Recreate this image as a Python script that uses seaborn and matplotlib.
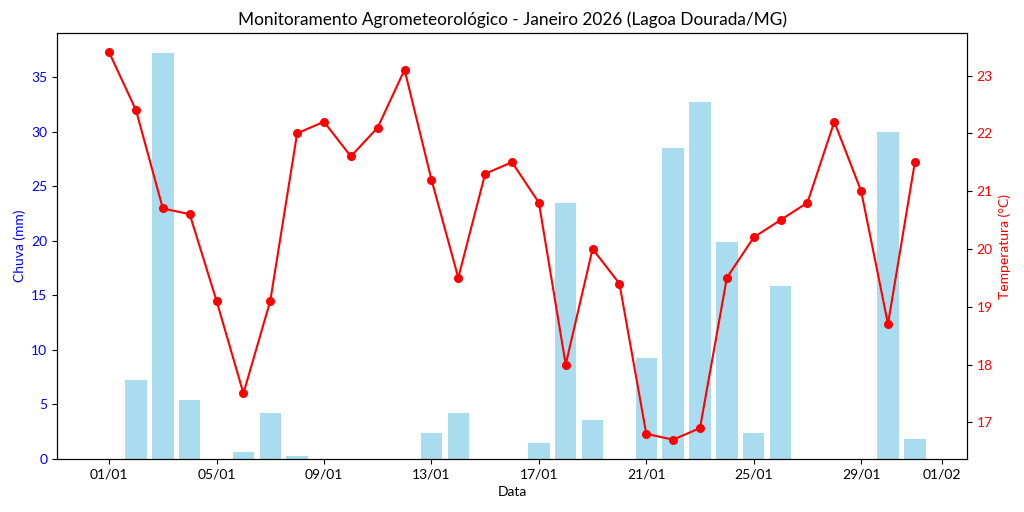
import matplotlib
matplotlib.use("Agg")
import matplotlib.pyplot as plt
import matplotlib.dates as mdates
import seaborn as sns
import pandas as pd
import numpy as np

dates = pd.date_range("2026-01-01", "2026-01-31", freq="D")
chuva = [0.0, 7.2, 37.2, 5.4, 0.0, 0.6, 4.2, 0.3, 0.0, 0.0, 0.0, 0.0, 2.4, 4.2, 0.0, 0.0,
         1.5, 23.5, 3.6, 0.0, 9.3, 28.5, 32.7, 19.9, 2.4, 15.9, 0.0, 0.0, 0.0, 30.0, 1.8]
temperatura = [23.4, 22.4, 20.7, 20.6, 19.1, 17.5, 19.1, 22.0, 22.2, 21.6, 22.1, 23.1, 21.2, 19.5,
               21.3, 21.5, 20.8, 18.0, 20.0, 19.4, 16.8, 16.7, 16.9, 19.5, 20.2, 20.5, 20.8, 22.2,
               21.0, 18.7, 21.5]

plt.rcParams['font.family'] = ['Lato', 'DejaVu Sans']
plt.rcParams['font.size'] = 10

df = pd.DataFrame({"Data": dates, "Chuva": chuva, "Temp": temperatura})

fig, ax1 = plt.subplots(figsize=(10.24, 5.12), dpi=100)
fig.subplots_adjust(left=0.0557, right=0.9443, top=0.9355, bottom=0.1035)

ax1.bar(df["Data"], df["Chuva"], width=0.8, color="skyblue", alpha=0.7)
ax1.set_xlabel("Data")
ax1.set_ylabel("Chuva (mm)", color="blue")
ax1.tick_params(axis="y", labelcolor="blue")

ax2 = ax1.twinx()
sns.lineplot(data=df, x="Data", y="Temp", ax=ax2, color="red", marker="o",
             markersize=6.5, markeredgewidth=0, linewidth=1.5)
ax2.set_ylabel("Temperatura (°C)", color="red")
ax2.tick_params(axis="y", labelcolor="red")
ax2.set_xlabel("Data")

ax1.xaxis.set_major_locator(mdates.AutoDateLocator())
ax1.xaxis.set_major_formatter(mdates.DateFormatter("%d/%m"))

ax1.set_title("Monitoramento Agrometeorológico - Janeiro 2026 (Lagoa Dourada/MG)", fontsize=12.4)

fig.savefig("out.png", dpi=100)
